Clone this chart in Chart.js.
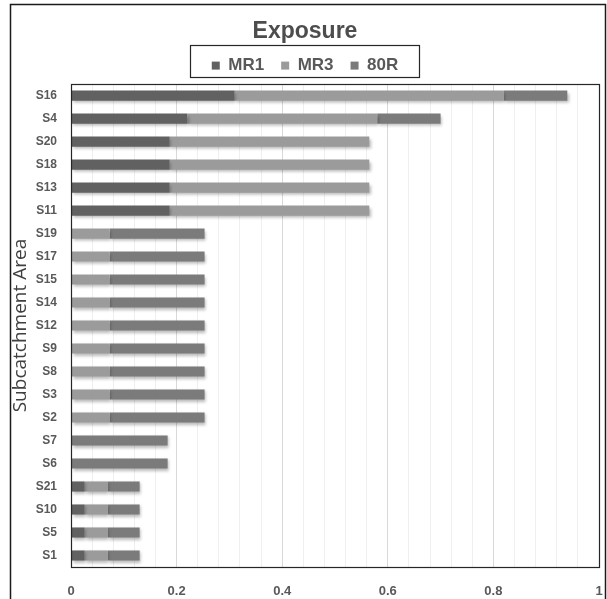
<!DOCTYPE html>
<html>
<head>
<meta charset="utf-8">
<script src="https://cdn.jsdelivr.net/npm/chart.js@4/dist/chart.umd.min.js"></script>
<style>
  html,body{margin:0;padding:0;background:#fff;}
  #wrap{position:relative;width:607px;height:599px;}
</style>
</head>
<body>
<div id="wrap"><canvas id="c" width="607" height="599"></canvas></div>
<script>
const categories = ['S16','S4','S20','S18','S13','S11','S19','S17','S15','S14','S12','S9','S8','S3','S2','S7','S6','S21','S10','S5','S1'];
const seriesNames = ['MR1','MR3','80R'];
const mr1 = [0.31,0.22,0.187,0.187,0.187,0.187,0,0,0,0,0,0,0,0,0,0,0,0.026,0.026,0.026,0.026];
const mr3 = [0.51,0.36,0.378,0.378,0.378,0.378,0.073,0.073,0.073,0.073,0.073,0.073,0.073,0.073,0.073,0,0,0.044,0.044,0.044,0.044];
const r80 = [0.12,0.12,0,0,0,0,0.18,0.18,0.18,0.18,0.18,0.18,0.18,0.18,0.18,0.183,0.183,0.06,0.06,0.06,0.06];
const xTickLabels = ['0','0.2','0.4','0.6','0.8','1'];
const seriesColors = ['#616161','#9b9b9b','#7b7b7b'];

const frameAndShadow = {
  id:'frameAndShadow',
  beforeDatasetsDraw(chart){
    const ctx = chart.ctx;
    ctx.save();
    ctx.shadowColor = 'rgba(0,0,0,0.28)';
    ctx.shadowBlur = 3;
    ctx.shadowOffsetX = 1.5;
    ctx.shadowOffsetY = 2;
  },
  afterDatasetsDraw(chart){
    chart.ctx.restore();
  },
  afterDraw(chart){
    const ctx = chart.ctx;
    const a = chart.chartArea;
    ctx.save();
    ctx.strokeStyle = '#262626';
    ctx.lineWidth = 1.2;
    ctx.strokeRect(Math.round(a.left)+0.5, Math.round(a.top)+0.5, Math.round(a.right-a.left), Math.round(a.bottom-a.top));
    ctx.lineWidth = 1.5;
    ctx.strokeStyle = '#1a1a1a';
    ctx.strokeRect(10.5, 4.5, 595, 610);
    const lg = chart.legend;
    if (lg && lg.legendHitBoxes && lg.legendHitBoxes.length){
      const hb = lg.legendHitBoxes;
      let l = Infinity, r = -Infinity;
      hb.forEach(h=>{l=Math.min(l,h.left);r=Math.max(r,h.left+h.width);});
      ctx.lineWidth = 1.2;
      ctx.strokeStyle = '#262626';
      ctx.strokeRect(Math.round(l-22)+0.5, 45.5, Math.round(r-l+43), 32);
    }
    ctx.restore();
  }
};

new Chart(document.getElementById('c'), {
  type:'bar',
  data:{
    labels: categories,
    datasets:[
      {label: seriesNames[0], data: mr1, backgroundColor: seriesColors[0]},
      {label: seriesNames[1], data: mr3, backgroundColor: seriesColors[1]},
      {label: seriesNames[2], data: r80, backgroundColor: seriesColors[2]}
    ]
  },
  plugins:[frameAndShadow],
  options:{
    indexAxis:'y',
    responsive:false,
    animation:false,
    events:[],
    categoryPercentage:1,
    barPercentage:0.44,
    layout:{padding:{left:11,right:8,top:12,bottom:0}},
    plugins:{
      title:{
        display:true,
        text:'Exposure',
        color:'#4d4d4d',
        font:{family:'"Liberation Sans", Arial, sans-serif',size:23,weight:'bold',lineHeight:0.7},
        padding:{top:12,bottom:0}
      },
      legend:{
        display:true,
        position:'top',
        labels:{
          color:'#595959',
          font:{family:'"Liberation Sans", Arial, sans-serif',size:17,weight:'bold'},
          boxWidth:8,
          boxHeight:8,
          padding:17
        }
      },
      tooltip:{enabled:false}
    },
    scales:{
      x:{
        stacked:true,
        min:0,
        max:1,
        border:{display:false},
        grid:{
          drawTicks:false,
          color:(c)=>{
            const v = c.tick ? c.tick.value : 0;
            return Math.abs(v*5 - Math.round(v*5)) < 1e-6 ? '#d9d9d9' : '#efefef';
          },
          lineWidth:1
        },
        ticks:{
          stepSize:0.04,
          autoSkip:false,
          maxRotation:0,
          padding:17,
          color:'#595959',
          font:{family:'"Liberation Sans", Arial, sans-serif',size:13,weight:'bold'},
          callback:(v)=>{
            const k = v*5;
            if (Math.abs(k - Math.round(k)) < 1e-6) return xTickLabels[Math.round(k)];
            return '';
          }
        },
        afterFit:(s)=>{ s.height = 32; s.paddingLeft = 0; s.paddingRight = 0; }
      },
      y:{
        stacked:true,
        border:{display:false},
        grid:{display:false,drawTicks:false},
        ticks:{
          padding:14,
          color:'#595959',
          font:{family:'"Liberation Sans", Arial, sans-serif',size:12,weight:'bold'}
        },
        title:{
          display:true,
          text:'Subcatchment Area',
          color:'#404040',
          padding:{top:0,bottom:0},
          font:{family:'"Open Sans", "Liberation Sans", sans-serif',size:19,lineHeight:1}
        },
        afterFit:(s)=>{ s.width = 60; }
      }
    }
  }
});
</script>
</body>
</html>
